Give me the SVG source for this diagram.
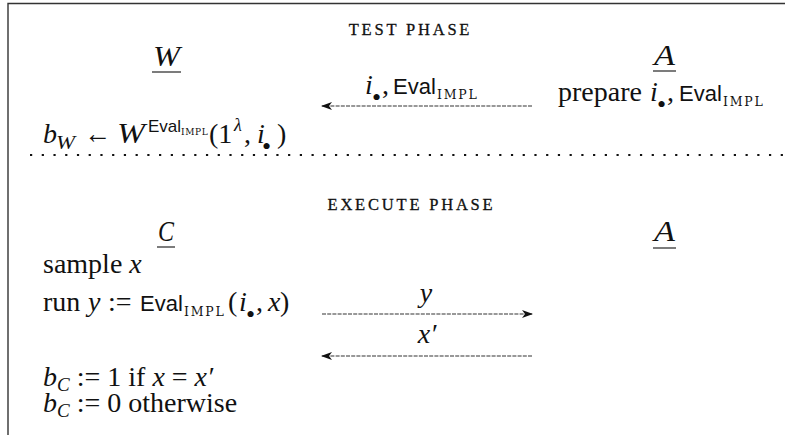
<svg xmlns="http://www.w3.org/2000/svg" width="785" height="435" viewBox="0 0 785 435">
  <style>
    text { font-family: "Liberation Serif", "Times New Roman", serif; fill: #111; }
    .m { font-size: 28px; }
    .i { font-style: italic; }
    .cal { font-style: italic; font-size: 29px; }
    .cs { font-style: italic; font-size: 19px; }
    .sf { font-family: "Liberation Sans", Arial, sans-serif; font-size: 22px; }
    .sfs { font-family: "Liberation Sans", Arial, sans-serif; font-size: 17px; }
    .sc { font-family: "DejaVu Serif", serif; font-size: 12.5px; letter-spacing: 1.8px; }
    .scs { font-family: "DejaVu Serif", serif; font-size: 9px; letter-spacing: 0.6px; }
    .sup { font-size: 18px; }
    .bl { font-size: 26px; }
    .head { font-size: 16.5px; letter-spacing: 2.8px; text-anchor: middle; stroke: #111; stroke-width: 0.3; }
    .ul { stroke: #111; stroke-width: 1.1; }
    .frame { stroke: #333; stroke-width: 1.4; fill: none; }
    .msg { stroke: #333; stroke-width: 1.2; stroke-dasharray: 4 1.2; fill: none; }
    .sep { stroke: #111; stroke-width: 2.2; stroke-dasharray: 2.2 9.53; }
  </style>
  <defs>
    <marker id="head" viewBox="0 0 11 8" refX="10" refY="4" markerWidth="11" markerHeight="8" markerUnits="userSpaceOnUse" orient="auto">
      <path d="M0,0 L11,4 L0,8 L3,4 Z" fill="#111"/>
    </marker>
  </defs>

  <!-- frame -->
  <path class="frame" d="M8,435 V3.5 H785"/>

  <!-- test phase -->
  <g id="test-phase">
    <text class="head" x="410.5" y="35">TEST PHASE</text>

    <g id="warden">
      <text class="cal" x="153" y="66" textLength="27" lengthAdjust="spacingAndGlyphs">W</text>
      <line class="ul" x1="152" y1="72" x2="181" y2="72"/>
      <!-- b_W <- W^{Eval_IMPL}(1^lambda, i.) -->
      <text class="m i" x="43" y="143">b</text>
      <text class="cs" x="56" y="149" textLength="19" lengthAdjust="spacingAndGlyphs">W</text>
      <text class="m" x="84" y="143" textLength="27" lengthAdjust="spacingAndGlyphs">←</text>
      <text class="cal" x="117" y="143" textLength="28" lengthAdjust="spacingAndGlyphs">W</text>
      <text class="m"><tspan class="sfs" x="148" y="132">Eval</tspan><tspan class="scs" x="181" y="135">IMPL</tspan><tspan x="209" y="143">(1</tspan><tspan class="i sup" x="234" y="131">λ</tspan><tspan x="244" y="143">,</tspan><tspan class="i" x="257" y="143">i</tspan><tspan class="bl" x="262" y="155">•</tspan><tspan x="277" y="143">)</tspan></text>
    </g>

    <g id="adversary-test">
      <text class="cal" x="654" y="65" textLength="21" lengthAdjust="spacingAndGlyphs">A</text>
      <line class="ul" x1="653" y1="71" x2="676" y2="71"/>
      <text class="m"><tspan x="558" y="101">prepare</tspan><tspan class="i" x="650" y="101">i</tspan><tspan class="bl" x="657" y="113">•</tspan><tspan x="667" y="101">,</tspan><tspan class="sf" x="679" y="101">Eval</tspan><tspan class="sc" x="723" y="106">IMPL</tspan></text>
    </g>

    <text class="m"><tspan class="i" x="365" y="94">i</tspan><tspan class="bl" x="372" y="106">•</tspan><tspan x="382" y="94">,</tspan><tspan class="sf" x="393" y="94">Eval</tspan><tspan class="sc" x="437" y="99">IMPL</tspan></text>
  </g>

  <!-- separator between phases -->
  <line class="sep" x1="30" y1="155" x2="783" y2="155"/>

  <!-- execute phase -->
  <g id="execute-phase">
    <text class="head" x="411.5" y="210">EXECUTE PHASE</text>

    <g id="challenger">
      <text class="cal" x="158" y="241" textLength="16" lengthAdjust="spacingAndGlyphs">C</text>
      <line class="ul" x1="157" y1="247" x2="175" y2="247"/>
      <text class="m" x="43" y="273">sample <tspan class="i">x</tspan></text>
      <text class="m"><tspan x="43" y="311">run</tspan><tspan class="i" x="88" y="311">y</tspan><tspan x="108" y="311">:=</tspan><tspan class="sf" x="140" y="311">Eval</tspan><tspan class="sc" x="184" y="316">IMPL</tspan><tspan x="228" y="311">(</tspan><tspan class="i" x="239" y="311">i</tspan><tspan class="bl" x="246" y="323">•</tspan><tspan x="256" y="311">,</tspan><tspan class="i" x="268" y="311">x</tspan><tspan x="280" y="311">)</tspan></text>
      <text class="m" x="43" y="386"><tspan class="i">b</tspan><tspan class="cs" dy="5">C</tspan><tspan dy="-5"> := 1 if </tspan><tspan class="i">x</tspan> = <tspan class="i">x′</tspan></text>
      <text class="m" x="43" y="412"><tspan class="i">b</tspan><tspan class="cs" dy="5">C</tspan><tspan dy="-5"> := 0 otherwise</tspan></text>
    </g>

    <g id="adversary-execute">
      <text class="cal" x="654" y="241" textLength="21" lengthAdjust="spacingAndGlyphs">A</text>
      <line class="ul" x1="653" y1="248" x2="676" y2="248"/>
    </g>

    <text class="m i" x="426" y="302" text-anchor="middle">y</text>
    <text class="m i" x="427" y="343" text-anchor="middle">x′</text>
  </g>

  <!-- message arrows -->
  <g id="connectors">
    <line class="msg" x1="532" y1="106" x2="322" y2="106" marker-end="url(#head)"/>
    <line class="msg" x1="322" y1="314" x2="532" y2="314" marker-end="url(#head)"/>
    <line class="msg" x1="532" y1="356" x2="322" y2="356" marker-end="url(#head)"/>
  </g>
</svg>
